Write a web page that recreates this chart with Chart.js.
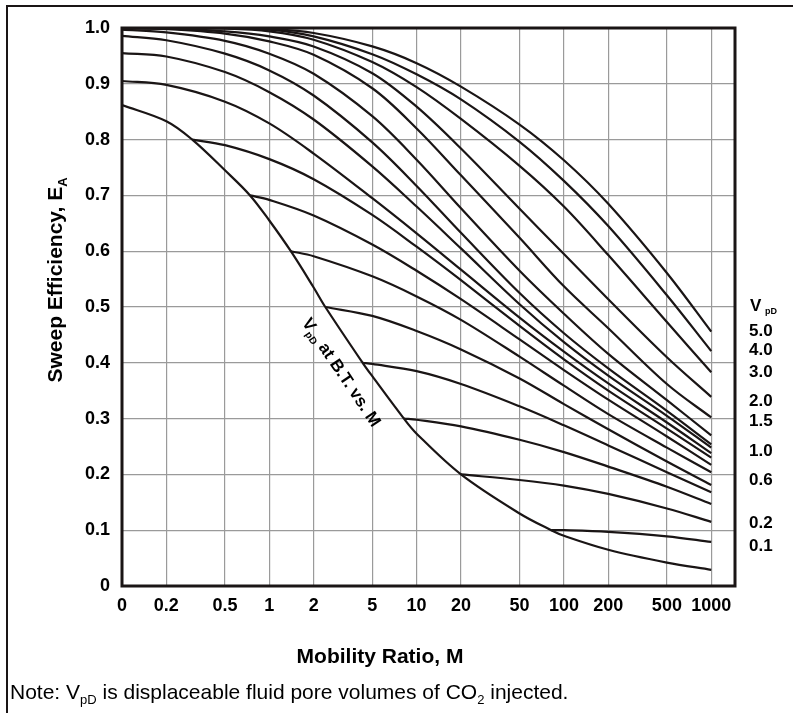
<!DOCTYPE html>
<html>
<head>
<meta charset="utf-8">
<script src="https://cdn.jsdelivr.net/npm/chart.js@4.4.0/dist/chart.umd.min.js"></script>
<style>
  html, body { margin: 0; padding: 0; background: #fff; }
  canvas { display: block; }
</style>
</head>
<body>
<canvas id="sweep" width="793" height="713"></canvas>
<script>
// Mobility ratios at the vertical grid lines ("0" sits where 0.1 would be on the log axis)
const mobilityGrid = [0, 0.2, 0.5, 1, 2, 5, 10, 20, 50, 100, 200, 500, 1000];
const xTickLabels = ['0', '0.2', '0.5', '1', '2', '5', '10', '20', '50', '100', '200', '500', '1000'];

// Sweep efficiency E_A at each mobilityGrid point, one array per V_pD
const vpd5_0 = [1.0, 1.0, 1.0, 0.998, 0.991, 0.967, 0.937, 0.895, 0.827, 0.763, 0.685, 0.561, 0.456];
const vpd4_0 = [1.0, 1.0, 1.0, 0.997, 0.985, 0.953, 0.917, 0.872, 0.796, 0.726, 0.645, 0.521, 0.421];
const vpd3_0 = [1.0, 1.0, 0.999, 0.994, 0.979, 0.939, 0.894, 0.837, 0.753, 0.680, 0.593, 0.473, 0.383];
const vpd2_0 = [1.0, 0.999, 0.994, 0.985, 0.967, 0.919, 0.859, 0.784, 0.676, 0.595, 0.514, 0.410, 0.339];
const vpd1_5 = [1.0, 0.998, 0.990, 0.976, 0.952, 0.892, 0.820, 0.736, 0.624, 0.537, 0.462, 0.362, 0.302];
const vpd1_2 = [0.997, 0.992, 0.977, 0.954, 0.918, 0.842, 0.764, 0.677, 0.565, 0.488, 0.416, 0.333, 0.270];
const vpd1_1 = [0.986, 0.978, 0.954, 0.924, 0.879, 0.795, 0.717, 0.633, 0.525, 0.453, 0.390, 0.314, 0.254];
const vpd1_0 = [0.955, 0.949, 0.921, 0.885, 0.836, 0.752, 0.680, 0.605, 0.505, 0.437, 0.377, 0.305, 0.248];
const vpd0_9 = [0.905, 0.898, 0.868, 0.829, 0.775, 0.695, 0.632, 0.567, 0.481, 0.420, 0.363, 0.293, 0.238];
// these start on the breakthrough curve (null before it)
const vpd0_8 = [null, null, 0.790, 0.765, 0.729, 0.665, 0.608, 0.548, 0.466, 0.406, 0.350, 0.282, 0.230];
const vpd0_7 = [null, null, null, 0.692, 0.664, 0.612, 0.565, 0.514, 0.442, 0.387, 0.334, 0.268, 0.217];
const vpd0_6 = [null, null, null, null, 0.591, 0.555, 0.519, 0.477, 0.411, 0.359, 0.308, 0.248, 0.204];
const vpd0_5 = [null, null, null, null, null, 0.484, 0.457, 0.424, 0.372, 0.326, 0.281, 0.223, 0.181];
const vpd0_4 = [null, null, null, null, null, 0.398, 0.385, 0.362, 0.322, 0.288, 0.252, 0.204, 0.168];
const vpd0_3 = [null, null, null, null, null, null, 0.298, 0.286, 0.262, 0.240, 0.214, 0.178, 0.147];
const vpd0_2 = [null, null, null, null, null, null, null, null, 0.190, 0.180, 0.165, 0.139, 0.115];
const vpd0_1 = [null, null, null, null, null, null, null, null, null, 0.100, 0.097, 0.089, 0.079];

const vpdValues = [5.0, 4.0, 3.0, 2.0, 1.5, 1.2, 1.1, 1.0, 0.9, 0.8, 0.7, 0.6, 0.5, 0.4, 0.3, 0.2, 0.1];
const vpdSeries = [vpd5_0, vpd4_0, vpd3_0, vpd2_0, vpd1_5, vpd1_2, vpd1_1, vpd1_0, vpd0_9,
                   vpd0_8, vpd0_7, vpd0_6, vpd0_5, vpd0_4, vpd0_3, vpd0_2, vpd0_1];

// V_pD at breakthrough vs M
const btMobility = [0, 0.2, 0.3, 0.5, 0.74, 1, 1.4, 2, 2.4, 4.3, 5, 8.2, 10, 20, 50, 82, 100, 200, 500, 1000];
const btSweep = [0.862, 0.833, 0.80, 0.745, 0.70, 0.655, 0.60, 0.535, 0.50, 0.40, 0.376, 0.30, 0.273, 0.20, 0.13, 0.10, 0.09, 0.065, 0.042, 0.029];

// labels at the right edge and the E_A level they sit at
const vpdLabels = ['5.0', '4.0', '3.0', '2.0', '1.5', '1.0', '0.6', '0.2', '0.1'];
const vpdLabelSweep = [0.459, 0.425, 0.385, 0.333, 0.297, 0.244, 0.192, 0.115, 0.073];

const ZERO_AT = 0.1; // where "0" is placed on the log axis
const FONT = 'Arial, "Liberation Sans", sans-serif';
const INK = '#1a1515';

const toX = (m) => (m === 0 ? ZERO_AT : m);

const datasets = vpdSeries.map((series, i) => {
  const pts = [];
  if (series[0] === null) {
    const k = btSweep.indexOf(vpdValues[i]);
    pts.push({ x: toX(btMobility[k]), y: btSweep[k] });
  }
  series.forEach((e, j) => {
    if (e !== null) pts.push({ x: toX(mobilityGrid[j]), y: e });
  });
  return { label: 'VpD ' + vpdValues[i], data: pts };
});
datasets.push({
  label: 'VpD at B.T.',
  data: btMobility.map((m, i) => ({ x: toX(m), y: btSweep[i] }))
});

// draws text made of normal and subscript parts
function richText(ctx, parts, x, y, size, weight, align) {
  const fontFor = (sub) => `${weight} ${sub ? Math.round(size * 0.6) : size}px ${FONT}`;
  const widths = parts.map(([t, sub]) => { ctx.font = fontFor(sub); return ctx.measureText(t).width; });
  const total = widths.reduce((a, b) => a + b, 0);
  let cx = align === 'center' ? x - total / 2 : x;
  parts.forEach(([t, sub], i) => {
    ctx.font = fontFor(sub);
    ctx.fillText(t, cx, sub ? y + size * 0.22 : y);
    cx += widths[i];
  });
}

const decorPlugin = {
  id: 'decor',
  afterDraw(chart) {
    const { ctx, chartArea: a, scales } = chart;
    ctx.save();
    ctx.strokeStyle = INK;
    ctx.lineWidth = 3;
    ctx.strokeRect(a.left, a.top, a.right - a.left, a.bottom - a.top);

    // outer page frame
    ctx.lineWidth = 2;
    ctx.beginPath();
    ctx.moveTo(7, 713);
    ctx.lineTo(7, 6);
    ctx.lineTo(793, 6);
    ctx.stroke();

    ctx.fillStyle = '#000';
    ctx.textAlign = 'left';
    ctx.textBaseline = 'alphabetic';

    // y title
    ctx.save();
    ctx.translate(62, 280);
    ctx.rotate(-Math.PI / 2);
    richText(ctx, [['Sweep Efficiency, E', false], ['A', true]], 0, 0, 21, 'bold', 'center');
    ctx.restore();

    // x title
    richText(ctx, [['Mobility Ratio, M', false]], 380, 663, 21, 'bold', 'center');

    // note
    richText(ctx, [['Note: V', false], ['pD', true], [' is displaceable fluid pore volumes of CO', false],
                   ['2', true], [' injected.', false]], 10, 699, 21, 'normal', 'left');

    // breakthrough label along the curve
    ctx.save();
    ctx.translate(342, 372);
    ctx.rotate(56 * Math.PI / 180);
    richText(ctx, [['V', false], ['pD', true], [' at B.T. vs. M', false]], 0, 6, 17, 'bold', 'center');
    ctx.restore();

    // right-hand V_pD labels
    richText(ctx, [['V', false]], 750, 311, 17, 'bold', 'left');
    ctx.font = `bold 9px ${FONT}`;
    ctx.fillText('pD', 765, 314);
    vpdLabels.forEach((t, i) => {
      const y = scales.y.getPixelForValue(vpdLabelSweep[i]);
      richText(ctx, [[t, false]], 749, y + 6, 17, 'bold', 'left');
    });
    ctx.restore();
  }
};

new Chart(document.getElementById('sweep'), {
  type: 'line',
  data: { datasets },
  options: {
    responsive: false,
    animation: false,
    devicePixelRatio: 1,
    layout: { padding: { top: 28, right: 58, left: 0, bottom: 0 } },
    elements: {
      line: { borderColor: INK, borderWidth: 2.2, tension: 0.35, fill: false },
      point: { radius: 0, hoverRadius: 0 }
    },
    plugins: { legend: { display: false }, tooltip: { enabled: false } },
    scales: {
      x: {
        type: 'logarithmic',
        min: ZERO_AT,
        max: 1450,
        afterBuildTicks: (scale) => {
          scale.ticks = mobilityGrid.map((m) => ({ value: toX(m) }));
        },
        afterFit: (scale) => { scale.height = 127; },
        grid: { color: '#9a9a9a', lineWidth: 1.2, drawTicks: false },
        border: { display: false },
        ticks: {
          autoSkip: false,
          maxRotation: 0,
          padding: 9,
          color: '#000',
          font: { family: FONT, size: 18, weight: 'bold' },
          callback: (v, i) => xTickLabels[i]
        }
      },
      y: {
        min: 0,
        max: 1,
        afterFit: (scale) => { scale.width = 122; },
        grid: { color: '#9a9a9a', lineWidth: 1.2, drawTicks: false },
        border: { display: false },
        ticks: {
          stepSize: 0.1,
          padding: 12,
          color: '#000',
          font: { family: FONT, size: 18, weight: 'bold' },
          callback: (v) => (v === 0 ? '0' : v.toFixed(1))
        }
      }
    }
  },
  plugins: [decorPlugin]
});
</script>
</body>
</html>
